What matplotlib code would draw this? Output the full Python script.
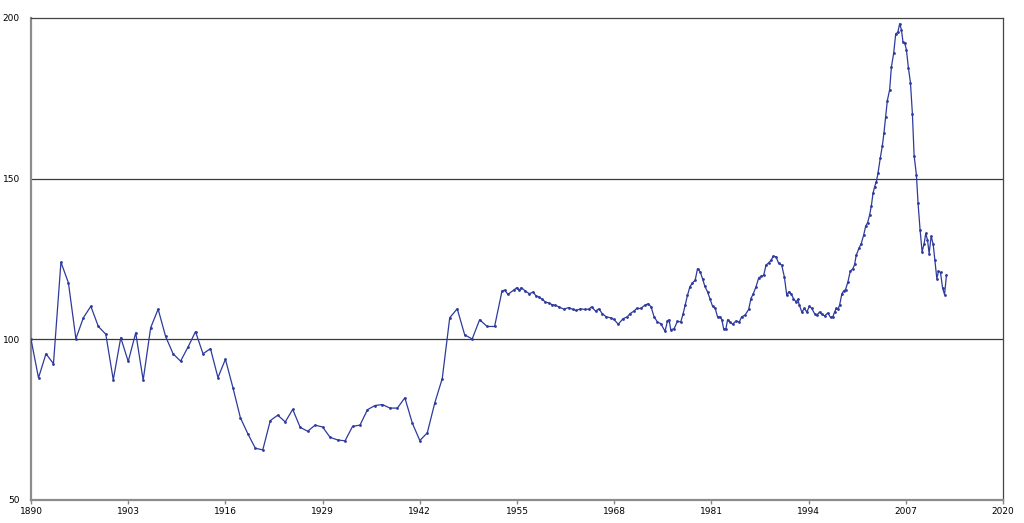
import matplotlib
matplotlib.use('Agg')
from matplotlib import pyplot as plt

# annual readings 1890-1952
annual_years = list(range(1890, 1953))
annual_values = [100.0, 88.0, 95.5, 92.4, 124.0, 117.6, 100.2, 106.7, 110.3, 104.0,
                 101.6, 87.4, 100.5, 93.1, 102.0, 87.3, 103.6, 109.4, 100.9, 95.5,
                 93.2, 97.6, 102.4, 95.5, 97.1, 88.1, 93.8, 85.0, 75.6, 70.6,
                 66.1, 65.6, 74.7, 76.4, 74.3, 78.2, 72.6, 71.4, 73.3, 72.7,
                 69.5, 68.7, 68.4, 72.9, 73.3, 78.1, 79.4, 79.7, 78.6, 78.6,
                 81.8, 73.9, 68.5, 70.9, 80.2, 87.8, 106.7, 109.5, 101.4, 100.1,
                 106.1, 104.0, 104.0]

# denser readings from 1953 on
dense_years = [1953.0, 1953.35, 1953.79, 1954.55, 1955.0, 1955.31, 1955.58, 1956.12, 1956.65, 1957.15,
               1957.55, 1957.91, 1958.35, 1958.8, 1959.25, 1959.69, 1960.14, 1960.59, 1961.26, 1961.93,
               1962.47, 1962.91, 1963.49, 1964.03, 1964.61, 1964.97, 1965.5, 1965.95, 1966.4, 1966.94,
               1967.52, 1967.96, 1968.54, 1969.17, 1969.75, 1970.11, 1970.65, 1971.0, 1971.54, 1972.08,
               1972.57, 1972.93, 1973.33, 1973.78, 1974.22, 1974.8, 1975.12, 1975.34, 1975.56, 1976.01,
               1976.46, 1976.9, 1977.22, 1977.49, 1977.8, 1978.11, 1978.47, 1978.83, 1979.14, 1979.5,
               1979.81, 1980.12, 1980.48, 1980.79, 1981.15, 1981.51, 1981.82, 1982.13, 1982.4, 1982.63,
               1982.94, 1983.16, 1983.48, 1983.83, 1984.28, 1984.73, 1985.04, 1985.49, 1985.98, 1986.29,
               1986.6, 1986.96, 1987.32, 1987.63, 1987.99, 1988.3, 1988.66, 1988.97, 1989.29, 1989.64,
               1990.0, 1990.4, 1990.76, 1991.08, 1991.34, 1991.66, 1991.97, 1992.33, 1992.55, 1992.77,
               1993.09, 1993.44, 1993.76, 1994.11, 1994.43, 1994.79, 1995.1, 1995.46, 1995.77, 1996.13,
               1996.57, 1996.93, 1997.24, 1997.47, 1997.69, 1997.91, 1998.14, 1998.45, 1998.67, 1998.94,
               1999.26, 1999.57, 1999.93, 2000.15, 2000.37, 2000.73, 2001.04, 2001.36, 2001.63, 2001.89,
               2002.16, 2002.39, 2002.61, 2002.83, 2003.06, 2003.28, 2003.59, 2003.86, 2004.08, 2004.31,
               2004.53, 2004.84, 2005.07, 2005.38, 2005.65, 2005.92, 2006.18, 2006.41, 2006.63, 2006.86,
               2007.08, 2007.35, 2007.62, 2007.88, 2008.11, 2008.42, 2008.64, 2008.91, 2009.18, 2009.45,
               2009.67, 2009.9, 2010.12, 2010.39, 2010.66, 2010.88, 2011.15, 2011.37, 2011.64, 2011.91,
               2012.18, 2012.44]
dense_values = [115.1, 115.3, 114.0, 115.3, 116.1, 115.3, 116.1, 115.0, 114.2, 114.7,
                113.5, 113.2, 112.5, 111.6, 111.3, 110.8, 110.6, 110.1, 109.4, 109.9,
                109.3, 109.0, 109.5, 109.3, 109.4, 110.1, 108.8, 109.5, 108.0, 107.0,
                106.7, 106.2, 104.7, 106.4, 107.0, 108.0, 108.8, 109.6, 109.6, 110.6,
                111.1, 110.1, 107.0, 105.4, 104.9, 102.5, 105.7, 106.1, 103.0, 103.3,
                105.6, 105.4, 108.0, 110.6, 113.7, 116.3, 117.6, 118.4, 122.0, 121.0,
                118.9, 116.5, 114.8, 112.7, 110.3, 109.6, 107.0, 107.0, 106.1, 103.3,
                103.3, 106.1, 105.4, 104.7, 105.7, 105.4, 107.0, 107.5, 109.3, 112.7,
                114.2, 116.3, 119.1, 119.6, 119.9, 123.1, 123.8, 124.6, 125.9, 125.7,
                123.6, 123.1, 119.4, 113.7, 114.8, 114.2, 112.7, 111.6, 112.4, 110.6,
                108.5, 109.6, 108.5, 110.3, 109.6, 108.0, 107.5, 108.5, 107.8, 107.3,
                108.2, 106.8, 107.0, 108.5, 109.6, 109.3, 110.6, 114.2, 115.0, 115.5,
                117.9, 121.2, 122.0, 123.3, 126.2, 128.3, 129.8, 132.4, 135.2, 136.3,
                138.7, 141.5, 145.4, 147.5, 149.1, 151.7, 156.5, 160.2, 164.3, 169.3,
                174.3, 177.7, 184.7, 189.1, 195.1, 195.5, 198.2, 196.4, 192.4, 192.2,
                190.1, 184.4, 179.9, 170.2, 157.2, 151.1, 142.3, 134.0, 127.2, 129.8,
                133.0, 130.9, 126.7, 132.1, 129.6, 124.8, 118.9, 121.2, 120.8, 116.1,
                113.9, 120.0]

years = annual_years + dense_years
values = annual_values + dense_values

x_ticks = list(range(1890, 2021, 13))
y_ticks = [50, 100, 150, 200]

fig = plt.figure(figsize=(10.24, 5.23), dpi=100)
ax = fig.add_axes([0.0303, 0.044, 0.9492, 0.9216])

ax.plot(years, values, color='#2e3a9c', linewidth=0.9,
        marker='o', markersize=2.0, markeredgewidth=0, zorder=3)

for v in [100, 150]:
    ax.axhline(v, color='#3a3a3a', linewidth=0.9, zorder=2)

ax.set_xlim(1890, 2020)
ax.set_ylim(50, 200)
ax.set_xticks(x_ticks)
ax.set_yticks(y_ticks)
ax.tick_params(axis='x', labelsize=6.5, length=3, width=1, color='#888888', pad=2)
ax.tick_params(axis='y', labelsize=6.5, length=0, pad=8)

ax.spines['left'].set_color('#8c8c8c')
ax.spines['left'].set_linewidth(1.6)
ax.spines['bottom'].set_color('#8c8c8c')
ax.spines['bottom'].set_linewidth(1.6)
ax.spines['top'].set_color('#444444')
ax.spines['top'].set_linewidth(0.9)
ax.spines['right'].set_color('#444444')
ax.spines['right'].set_linewidth(0.9)

fig.savefig('out.png', dpi=100)
